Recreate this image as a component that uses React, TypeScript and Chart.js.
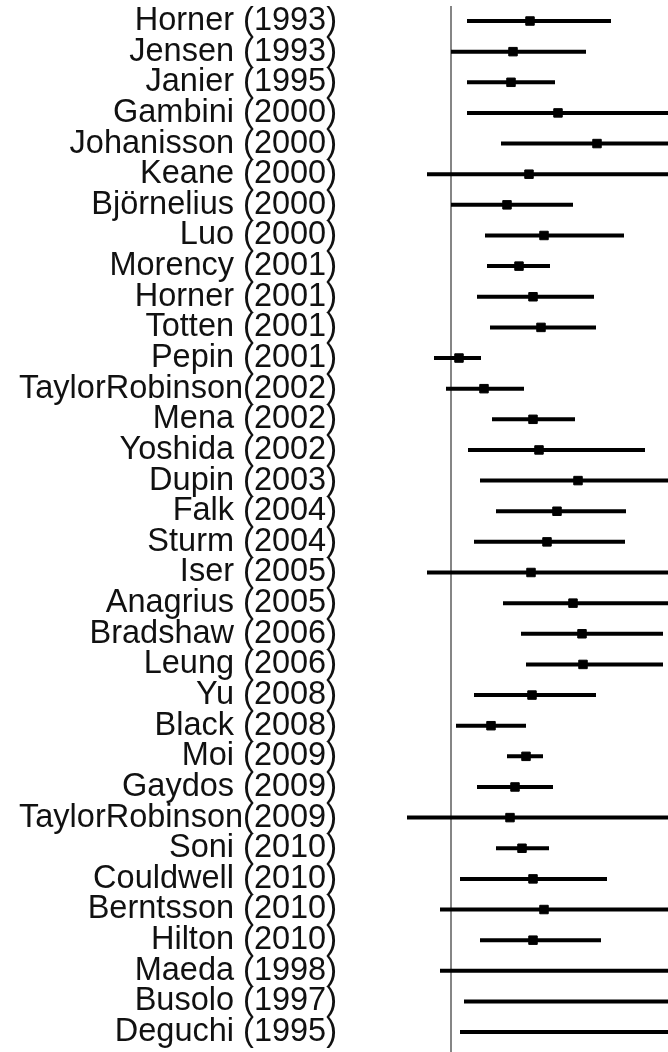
import React, { useEffect, useRef } from "react";
import { Chart, registerables } from "chart.js";

Chart.register(...registerables);

const studies: string[] = [
  "Horner (1993)", "Jensen (1993)", "Janier (1995)", "Gambini (2000)", "Johanisson (2000)",
  "Keane (2000)", "Björnelius (2000)", "Luo (2000)", "Morency (2001)", "Horner (2001)",
  "Totten (2001)", "Pepin (2001)", "TaylorRobinson(2002)", "Mena (2002)", "Yoshida (2002)",
  "Dupin (2003)", "Falk (2004)", "Sturm (2004)", "Iser (2005)", "Anagrius (2005)",
  "Bradshaw (2006)", "Leung (2006)", "Yu (2008)", "Black (2008)", "Moi (2009)",
  "Gaydos (2009)", "TaylorRobinson(2009)", "Soni (2010)", "Couldwell (2010)", "Berntsson (2010)",
  "Hilton (2010)", "Maeda (1998)", "Busolo (1997)", "Deguchi (1995)",
];

const estimate: number[] = [
  1.58, 1.24, 1.2, 2.14, 2.92,
  1.56, 1.12, 1.86, 1.36, 1.64,
  1.8, 0.16, 0.66, 1.64, 1.76,
  2.54, 2.12, 1.92, 1.6, 2.44,
  2.62, 2.64, 1.62, 0.8, 1.5,
  1.28, 1.18, 1.42, 1.64, 1.86,
  1.64, 5.2, 5.4, 5.3,
];

const lower: number[] = [
  0.32, 0.0, 0.32, 0.32, 1.0,
  -0.48, 0.0, 0.68, 0.72, 0.52,
  0.78, -0.34, -0.1, 0.82, 0.34,
  0.58, 0.9, 0.46, -0.48, 1.04,
  1.4, 1.5, 0.46, 0.1, 1.12,
  0.52, -0.88, 0.9, 0.18, -0.22,
  0.58, -0.22, 0.26, 0.18,
];

const upper: number[] = [
  3.2, 2.7, 2.08, 5.0, 5.0,
  5.0, 2.44, 3.46, 1.98, 2.86,
  2.9, 0.6, 1.46, 2.48, 3.88,
  5.0, 3.5, 3.48, 5.0, 5.0,
  4.24, 4.24, 2.9, 1.5, 1.84,
  2.04, 5.0, 1.96, 3.12, 5.0,
  3.0, 7.0, 7.0, 7.0,
];

const nullValue = 0;
const xMin = -1;
const xMax = 4.34;
const yMin = -0.49;
const yMax = 33.65;

export default function App() {
  const ref = useRef<HTMLCanvasElement | null>(null);

  useEffect(() => {
    if (!ref.current) return;
    const ciSets = studies.map((_, i) => ({
      type: "line" as const,
      data: [
        { x: lower[i], y: i },
        { x: upper[i], y: i },
      ],
      borderColor: "#000000",
      borderWidth: 4,
      pointRadius: 0,
      order: 5,
    }));
    const chart = new Chart(ref.current, {
      type: "scatter",
      data: {
        datasets: [
          {
            type: "scatter" as const,
            data: studies.map((_, i) => ({ x: estimate[i], y: i })),
            backgroundColor: "#000000",
            borderColor: "#000000",
            borderWidth: 1,
            pointStyle: "rect",
            pointRadius: 6,
            order: 1,
          },
          ...ciSets,
          {
            type: "line" as const,
            data: [
              { x: nullValue, y: yMin },
              { x: nullValue, y: yMax },
            ],
            borderColor: "#858585",
            borderWidth: 2,
            pointRadius: 0,
            order: 10,
          },
        ] as any,
      },
      options: {
        animation: false,
        responsive: false,
        maintainAspectRatio: false,
        layout: { autoPadding: false, padding: { top: 6, left: 0, right: 0, bottom: 0 } },
        plugins: { legend: { display: false }, tooltip: { enabled: false } },
        scales: {
          x: {
            type: "linear",
            display: false,
            min: xMin,
            max: xMax,
          },
          y: {
            type: "linear",
            reverse: true,
            min: yMin,
            max: yMax,
            grid: { display: false, drawTicks: false },
            border: { display: false },
            afterBuildTicks: (scale: any) => {
              scale.ticks = studies.map((_, i) => ({ value: i }));
            },
            afterFit: (scale: any) => {
              scale.width = 401;
              scale.paddingTop = 0;
              scale.paddingBottom = 0;
            },
            ticks: {
              autoSkip: false,
              padding: 64,
              color: "#111111",
              font: { family: "'Liberation Sans', Arial, sans-serif", size: 32.5 },
              callback: (v: any) => studies[Math.round(Number(v))] ?? "",
            },
          },
        },
      },
    });
    return () => chart.destroy();
  }, []);

  return (
    <div style={{ position: "absolute", left: 0, top: 0, width: 668, height: 1052 }}>
      <canvas ref={ref} width={668} height={1052} />
    </div>
  );
}
